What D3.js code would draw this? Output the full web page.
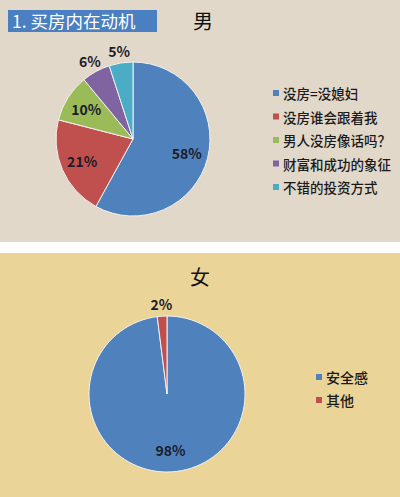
<!DOCTYPE html>
<html>
<head>
<meta charset="utf-8">
<script src="https://cdn.jsdelivr.net/npm/d3@7"></script>
<style>
  html, body { margin: 0; padding: 0; background: #fff; }
  svg { display: block; }
  text { font-family: "Noto Sans CJK SC", "Noto Sans", sans-serif; }
</style>
</head>
<body>
<div id="chart"></div>
<script>
// data
const menCategories = ["没房=没媳妇", "没房谁会跟着我", "男人没房像话吗？", "财富和成功的象征", "不错的投资方式"];
const menValues = [58, 21, 10, 6, 5];
const womenCategories = ["安全感", "其他"];
const womenValues = [98, 2];
const sliceColors = ["#4f81bd", "#c0504d", "#9bbb59", "#8064a2", "#4bacc6"];

const width = 400;
const height = 497;

const svg = d3.select("#chart")
  .append("svg")
  .attr("width", width)
  .attr("height", height);

// panel backgrounds
svg.append("rect").attr("x", 0).attr("y", 0).attr("width", width).attr("height", 242).attr("fill", "#e2d8ca");
svg.append("rect").attr("x", 0).attr("y", 253).attr("width", width).attr("height", height - 253).attr("fill", "#ead497");

// title box
svg.append("rect").attr("x", 8).attr("y", 10).attr("width", 149).attr("height", 22).attr("fill", "#4a7fc1");
svg.append("text").attr("x", 12).attr("y", 27.5).attr("fill", "#fff")
  .style("font-size", "17.5px").text("1. 买房内在动机");

const drawPie = (opts) => {
  const { values, categories, cx, cy, r, title, titleX, titleY, legendX, legendY, legendStep, legendFont } = opts;
  const total = d3.sum(values);

  const g = svg.append("g").attr("transform", "translate(" + cx + "," + cy + ")");

  const pie = d3.pie().sort(null).value((d) => d);
  const arcs = pie(values);

  const arc = d3.arc().innerRadius(0).outerRadius(r);
  const inLabel = d3.arc().innerRadius(r * 0.72).outerRadius(r * 0.72);
  const outLabel = d3.arc().innerRadius(r * 1.16).outerRadius(r * 1.16);

  g.selectAll("path")
    .data(arcs)
    .enter()
    .append("path")
    .attr("d", arc)
    .attr("fill", (d, i) => sliceColors[i])
    .attr("stroke", "#f2f2f2")
    .style("stroke-width", "1px");

  g.selectAll("text.lbl")
    .data(arcs)
    .enter()
    .append("text")
    .attr("class", "lbl")
    .attr("transform", (d) => {
      const p = (d.data / total < 0.08 ? outLabel : inLabel).centroid(d);
      return "translate(" + p[0] + "," + p[1] + ")";
    })
    .attr("text-anchor", "middle")
    .attr("dominant-baseline", "central")
    .attr("fill", "#1c1c2a")
    .style("font-size", "14px")
    .style("font-weight", "bold")
    .text((d) => d.data + "%");

  svg.append("text")
    .attr("x", titleX).attr("y", titleY)
    .attr("text-anchor", "middle")
    .attr("fill", "#111")
    .style("font-size", "20px")
    .text(title);

  const legend = svg.selectAll("g.legend-" + title)
    .data(categories)
    .enter()
    .append("g")
    .attr("transform", (d, i) => "translate(" + legendX + "," + (legendY + i * legendStep) + ")");

  legend.append("rect")
    .attr("x", 0).attr("y", -3)
    .attr("width", 6).attr("height", 6)
    .attr("fill", (d, i) => sliceColors[i]);

  legend.append("text")
    .attr("x", 10).attr("y", 0)
    .attr("dominant-baseline", "central")
    .attr("fill", "#1a1a1a")
    .style("font-size", legendFont)
    .style("font-weight", 500)
    .text((d) => d);
};

drawPie({
  values: menValues, categories: menCategories,
  cx: 133, cy: 139, r: 77,
  title: "男", titleX: 203, titleY: 29,
  legendX: 273, legendY: 93, legendStep: 23.5, legendFont: "13.5px"
});

drawPie({
  values: womenValues, categories: womenCategories,
  cx: 167, cy: 394, r: 78,
  title: "女", titleX: 200, titleY: 285,
  legendX: 316, legendY: 377, legendStep: 23, legendFont: "14px"
});
</script>
</body>
</html>
